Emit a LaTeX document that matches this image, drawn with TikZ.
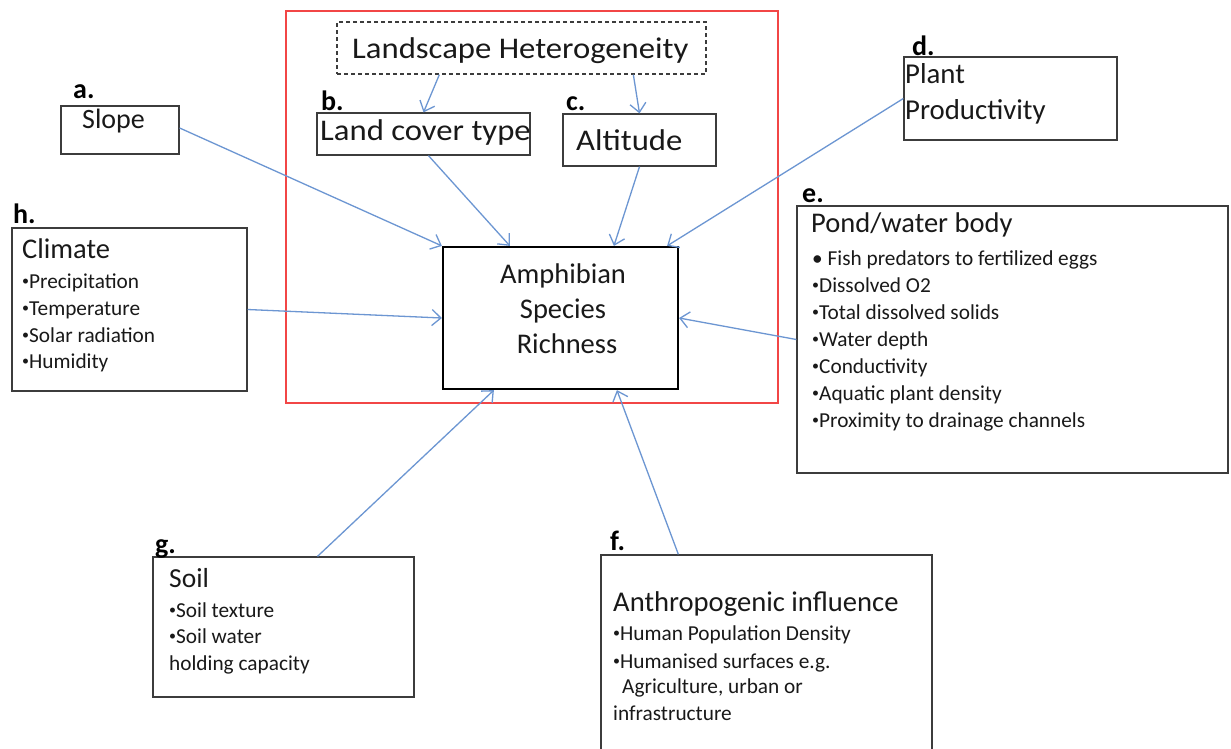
\documentclass[tikz,border=0pt]{standalone}
\usepackage{fontspec}
\setmainfont{Carlito}
\usetikzlibrary{arrows.meta,calc}
\definecolor{arrblue}{RGB}{108,150,210}
\definecolor{redline}{RGB}{242,70,70}
\definecolor{boxgray}{RGB}{60,60,60}
\definecolor{txt}{RGB}{25,25,25}
\tikzset{
  box/.style={draw=boxgray, line width=1.3pt, inner sep=0pt, rectangle},
  lbl/.style={anchor=base west, inner sep=0pt, font=\fontsize{28}{28}\selectfont\bfseries, text=black},
  ttl/.style={anchor=base west, inner sep=0pt, text=txt},
  itm/.style={anchor=base west, inner sep=0pt, text=txt, font=\fontsize{21.3}{24}\selectfont},
  arr/.style={draw=arrblue, line width=1.3pt, -{Straight Barb[length=9pt,width=16pt,line width=1.3pt]}},
}
\newcommand{\wide}[1]{\scalebox{1.09}[1]{#1}}
\newcommand{\bul}{\raisebox{2.5pt}{\fontsize{14}{14}\selectfont•}}
\begin{document}
\begin{tikzpicture}[x=1pt,y=-1pt]
\clip (0,0) rectangle (1231,748);
\fill[white] (0,0) rectangle (1231,748);
% red frame
\node[draw=redline, line width=1.5pt, inner sep=0pt, minimum width=492pt, minimum height=392pt] (frame) at (532,207) {};
% boxes
\node[box, dashed, dash pattern=on 4pt off 3pt, minimum width=369pt, minimum height=52pt] (hetero) at (521.5,48) {};
\node[box, minimum width=213pt, minimum height=42pt] (landcover) at (423.5,134) {};
\node[box, minimum width=153pt, minimum height=52pt] (altitude) at (639.5,140) {};
\node[box, minimum width=118pt, minimum height=48pt] (slope) at (120,130) {};
\node[box, minimum width=235pt, minimum height=163pt] (climate) at (129.5,309.5) {};
\node[draw=black, line width=2.2pt, inner sep=0pt, minimum width=235pt, minimum height=142pt] (amph) at (560.5,318) {};
\node[box, minimum width=213pt, minimum height=83pt] (plant) at (1010.5,98.5) {};
\node[box, minimum width=431pt, minimum height=267pt] (pond) at (1012.5,339.5) {};
\node[box, minimum width=261pt, minimum height=140pt] (soil) at (283.5,627) {};
\node[box, minimum width=331pt, minimum height=215pt] (anthro) at (766.5,662.5) {};
% letters
\node[lbl] (la) at (73,98) {a.};
\node[lbl] (lb) at (321,110) {b.};
\node[lbl] (lc) at (566,110) {c.};
\node[lbl] (ld) at (912,55) {d.};
\node[lbl] (le) at (802,202) {e.};
\node[lbl] (lf) at (610,550) {f.};
\node[lbl] (lg) at (155,553) {g.};
\node[lbl] (lh) at (13,223) {h.};
% titles
\node[ttl, font=\fontsize{30}{30}\selectfont] (tHet) at (352,58) {\wide{Landscape Heterogeneity}};
\node[ttl, font=\fontsize{30}{30}\selectfont] (tLand) at (320,140) {\wide{Land cover type}};
\node[ttl, font=\fontsize{30}{30}\selectfont] (tAlt) at (576,150) {\wide{Altitude}};
\node[ttl, font=\fontsize{28}{28}\selectfont] (tSlope) at (82,128) {Slope};
\node[ttl, font=\fontsize{28.8}{28}\selectfont] (tPlant1) at (905,83) {Plant};
\node[ttl, font=\fontsize{28.8}{28}\selectfont] (tPlant2) at (905,119) {Productivity};
\node[ttl, font=\fontsize{28.5}{28}\selectfont] (tPond) at (811,232) {Pond/water body};
\node[ttl, font=\fontsize{28.5}{28}\selectfont] (tClim) at (22,258) {Climate};
\node[ttl, font=\fontsize{27.5}{27}\selectfont] (tSoil) at (169,587) {Soil};
\node[ttl, font=\fontsize{28.6}{28}\selectfont] (tAnth) at (613,611) {Anthropogenic influence};
\node[text=txt, anchor=base, inner sep=0pt, font=\fontsize{28.5}{28}\selectfont] (tA1) at (563,283) {Amphibian};
\node[text=txt, anchor=base, inner sep=0pt, font=\fontsize{28.5}{28}\selectfont] (tA2) at (563,318) {Species};
\node[text=txt, anchor=base, inner sep=0pt, font=\fontsize{28.5}{28}\selectfont] (tA3) at (567,353) {Richness};
% climate items
\node[itm] (c1) at (22,288) {\bul Precipitation};
\node[itm] (c2) at (22,315) {\bul Temperature};
\node[itm] (c3) at (22,342) {\bul Solar radiation};
\node[itm] (c4) at (22,368) {\bul Humidity};
% pond items
\node[itm] (p1) at (812,265) {• Fish predators to fertilized eggs};
\node[itm] (p2) at (812,292) {\bul Dissolved O2};
\node[itm] (p3) at (812,319) {\bul Total dissolved solids};
\node[itm] (p4) at (812,346) {\bul Water depth};
\node[itm] (p5) at (812,373) {\bul Conductivity};
\node[itm] (p6) at (812,400) {\bul Aquatic plant density};
\node[itm] (p7) at (812,427) {\bul Proximity to drainage channels};
% soil items
\node[itm] (s1) at (169,617) {\bul Soil texture};
\node[itm] (s2) at (169,643) {\bul Soil water};
\node[itm] (s3) at (169,670) {holding capacity};
% anthro items
\node[itm] (a1) at (613,640) {\bul Human Population Density};
\node[itm] (a2) at (613,668) {\bul Humanised surfaces e.g.};
\node[itm] (a3) at (622,693) {Agriculture, urban or};
\node[itm] (a4) at (613,720) {infrastructure};
% arrows
\draw[arr] ($(hetero.south west)+(103,0)$) -- (landcover.north);
\draw[arr] ($(hetero.south west)+(297,0)$) -- (altitude.north);
\draw[arr] ($(slope.east)+(0,-2)$) -- (amph.north west);
\draw[arr] ($(landcover.south)+(5,0)$) -- ($(amph.north west)+(68,0)$);
\draw[arr] (altitude.south) -- ($(amph.north west)+(172,0)$);
\draw[arr] (plant.west) -- ($(amph.north east)+(-12,0)$);
\draw[arr] (climate.east) -- (amph.west);
\draw[arr] (pond.west) -- (amph.east);
\draw[arr] ($(soil.north)+(34,0)$) -- ($(amph.south west)+(52,0)$);
\draw[arr] ($(anthro.north west)+(78,0)$) -- ($(amph.south west)+(175,0)$);
\end{tikzpicture}
\end{document}
